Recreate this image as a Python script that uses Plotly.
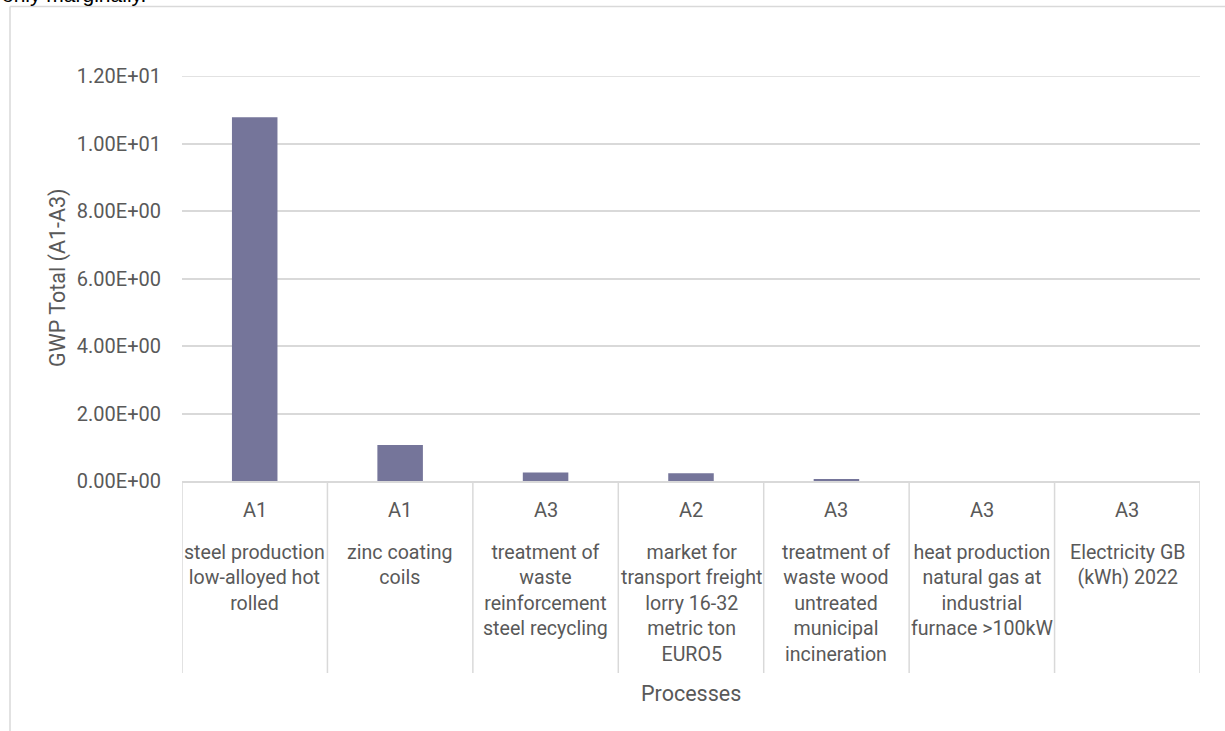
import plotly.graph_objects as go

# Life-cycle stage of each process and its description
stages = ["A1", "A1", "A3", "A2", "A3", "A3", "A3"]
processes = [
    "steel production<br>low-alloyed hot<br>rolled",
    "zinc coating<br>coils",
    "treatment of<br>waste<br>reinforcement<br>steel recycling",
    "market for<br>transport freight<br>lorry 16-32<br>metric ton<br>EURO5",
    "treatment of<br>waste wood<br>untreated<br>municipal<br>incineration",
    "heat production<br>natural gas at<br>industrial<br>furnace >100kW",
    "Electricity GB<br>(kWh) 2022",
]
gwp_total = [10.78, 1.07, 0.25, 0.23, 0.03, 0.0, 0.0]
y_ticks = [0, 2, 4, 6, 8, 10, 12]
y_tick_labels = [f"{v:.2E}" for v in y_ticks]

keys = [p.replace("<br>", " ") for p in processes]

GRID = "#D9D9D9"
TEXT = "#595959"
BAR = "#75759A"
FONT = "Roboto"

W, H = 1225, 731
L, R, T, B = 182, 25, 76, 250
plot_w = W - L - R
plot_h = H - T - B


def px_to_paper_x(px):
    return (px - L) / plot_w


def px_to_paper_y(py):
    return 1 - (py - T) / plot_h


fig = go.Figure(
    go.Bar(
        x=keys,
        y=gwp_total,
        marker=dict(color=BAR, line=dict(width=0)),
        showlegend=False,
    )
)

annotations = []
for key, stage, proc in zip(keys, stages, processes):
    annotations.append(dict(
        x=key, xref="x", y=px_to_paper_y(510), yref="paper",
        text=stage, showarrow=False, yanchor="middle",
        font=dict(family=FONT, size=20, color=TEXT),
    ))
    annotations.append(dict(
        x=key, xref="x", y=px_to_paper_y(539), yref="paper",
        text=proc, showarrow=False, yanchor="top", align="center",
        font=dict(family=FONT, size=19.6, color=TEXT),
    ))

# axis titles
annotations.append(dict(
    x=0.5, xref="paper", y=px_to_paper_y(693), yref="paper",
    text="Processes", showarrow=False, yanchor="middle",
    font=dict(family=FONT, size=21.5, color=TEXT),
))
annotations.append(dict(
    x=px_to_paper_x(58), xref="paper", y=px_to_paper_y(278), yref="paper",
    text="GWP Total (A1-A3)", showarrow=False, textangle=-90,
    xanchor="center", yanchor="middle",
    font=dict(family=FONT, size=21.5, color=TEXT),
))
# trailing line of the surrounding document text
annotations.append(dict(
    x=px_to_paper_x(0), xref="paper", y=px_to_paper_y(-6), yref="paper",
    text="only marginally.", showarrow=False, xanchor="left", yanchor="middle",
    font=dict(family="Liberation Sans", size=21, color="#000000"),
))

shapes = []
# top gridline at the range limit
shapes.append(dict(
    type="line", xref="paper", yref="y",
    x0=0, x1=1, y0=y_ticks[-1], y1=y_ticks[-1],
    line=dict(color=GRID, width=1.5), layer="below",
))
# category dividers below the axis
for i in range(len(keys) + 1):
    shapes.append(dict(
        type="line", xref="x", yref="paper",
        x0=i - 0.5, x1=i - 0.5, y0=0, y1=px_to_paper_y(673),
        line=dict(color=GRID, width=1.5),
    ))
# chart frame
shapes.append(dict(
    type="line", xref="paper", yref="paper",
    x0=px_to_paper_x(10), x1=px_to_paper_x(10),
    y0=px_to_paper_y(6.5), y1=px_to_paper_y(760),
    line=dict(color=GRID, width=1.5),
))
shapes.append(dict(
    type="line", xref="paper", yref="paper",
    x0=px_to_paper_x(10), x1=px_to_paper_x(1260),
    y0=px_to_paper_y(6.5), y1=px_to_paper_y(6.5),
    line=dict(color=GRID, width=1.5),
))

fig.update_layout(
    width=W, height=H,
    margin=dict(l=L, r=R, t=T, b=B, autoexpand=False),
    paper_bgcolor="white", plot_bgcolor="white",
    bargap=0.687,
    annotations=annotations,
    shapes=shapes,
    xaxis=dict(
        type="category", range=[-0.5, len(keys) - 0.5],
        showticklabels=False, showgrid=False, ticks="",
        showline=True, linecolor=GRID, linewidth=1.5,
        fixedrange=True,
    ),
    yaxis=dict(
        range=[0, 12], tickvals=y_ticks, ticktext=y_tick_labels,
        showgrid=True, gridcolor=GRID, gridwidth=1.5,
        zeroline=False, showline=False, ticks="",
        ticklabelstandoff=20,
        tickfont=dict(family=FONT, size=20, color=TEXT),
        fixedrange=True,
    ),
)

fig.write_html("out.html", config={"displayModeBar": False})
